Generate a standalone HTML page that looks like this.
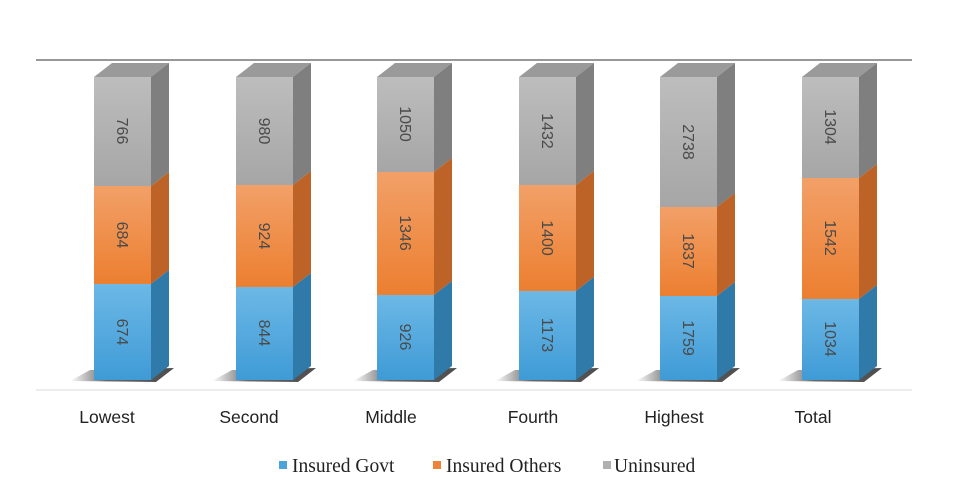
<!DOCTYPE html>
<html><head><meta charset="utf-8"><style>
html,body{margin:0;padding:0;background:#fff;width:954px;height:500px;overflow:hidden}
svg{display:block}
.v{font-family:"Liberation Sans",sans-serif;font-size:16px;fill:#4a4a4a}
.c{font-family:"Liberation Sans",sans-serif;font-size:17.5px;fill:#222}
.l{font-family:"Liberation Serif",serif;font-size:19.5px;fill:#222}
</style></head><body>
<svg width="954" height="500" viewBox="0 0 954 500">
<defs>
<linearGradient id="gg" x1="0" y1="0" x2="0" y2="1"><stop offset="0" stop-color="#bdbdbd"/><stop offset="1" stop-color="#a6a6a6"/></linearGradient>
<linearGradient id="go" x1="0" y1="0" x2="0" y2="1"><stop offset="0" stop-color="#f2a068"/><stop offset="1" stop-color="#ec7f30"/></linearGradient>
<linearGradient id="gb" x1="0" y1="0" x2="0" y2="1"><stop offset="0" stop-color="#6cb8e6"/><stop offset="1" stop-color="#3f9bd6"/></linearGradient>
<linearGradient id="sh" x1="0" y1="0" x2="1" y2="0"><stop offset="0" stop-color="#000" stop-opacity="0"/><stop offset="0.35" stop-color="#000" stop-opacity="0.6"/><stop offset="1" stop-color="#000" stop-opacity="0.7"/></linearGradient>
<g id="shadow"><polygon points="-24,381 -4,370 80,368 62,382" fill="url(#sh)"/></g>
</defs>
<line x1="36" y1="60" x2="912" y2="60" stroke="#777" stroke-width="1.5"/>
<line x1="36" y1="390" x2="912" y2="390" stroke="#e6e6e6" stroke-width="1.5"/>

<g transform="translate(94,0)">
<use href="#shadow"/>
<polygon points="0,77 18,63 75,63 57,77" fill="#9a9a9a"/>
<rect x="0" y="77" width="57" height="109" fill="url(#gg)"/>
<rect x="0" y="186" width="57" height="98" fill="url(#go)"/>
<rect x="0" y="284" width="57" height="96" fill="url(#gb)"/>
<polygon points="57,77 75,63 75,172 57,186" fill="#7f7f7f"/>
<polygon points="57,186 75,172 75,270 57,284" fill="#bd6327"/>
<polygon points="57,284 75,270 75,366 57,380" fill="#2f7aa8"/>
<text class="v" transform="translate(23,131) rotate(90)" text-anchor="middle">766</text>
<text class="v" transform="translate(23,235) rotate(90)" text-anchor="middle">684</text>
<text class="v" transform="translate(23,332) rotate(90)" text-anchor="middle">674</text>
</g>
<g transform="translate(236,0)">
<use href="#shadow"/>
<polygon points="0,77 18,63 75,63 57,77" fill="#9a9a9a"/>
<rect x="0" y="77" width="57" height="108" fill="url(#gg)"/>
<rect x="0" y="185" width="57" height="102" fill="url(#go)"/>
<rect x="0" y="287" width="57" height="93" fill="url(#gb)"/>
<polygon points="57,77 75,63 75,171 57,185" fill="#7f7f7f"/>
<polygon points="57,185 75,171 75,273 57,287" fill="#bd6327"/>
<polygon points="57,287 75,273 75,366 57,380" fill="#2f7aa8"/>
<text class="v" transform="translate(23,131) rotate(90)" text-anchor="middle">980</text>
<text class="v" transform="translate(23,236) rotate(90)" text-anchor="middle">924</text>
<text class="v" transform="translate(23,333) rotate(90)" text-anchor="middle">844</text>
</g>
<g transform="translate(377,0)">
<use href="#shadow"/>
<polygon points="0,77 18,63 75,63 57,77" fill="#9a9a9a"/>
<rect x="0" y="77" width="57" height="95" fill="url(#gg)"/>
<rect x="0" y="172" width="57" height="123" fill="url(#go)"/>
<rect x="0" y="295" width="57" height="85" fill="url(#gb)"/>
<polygon points="57,77 75,63 75,158 57,172" fill="#7f7f7f"/>
<polygon points="57,172 75,158 75,281 57,295" fill="#bd6327"/>
<polygon points="57,295 75,281 75,366 57,380" fill="#2f7aa8"/>
<text class="v" transform="translate(23,124) rotate(90)" text-anchor="middle">1050</text>
<text class="v" transform="translate(23,233) rotate(90)" text-anchor="middle">1346</text>
<text class="v" transform="translate(23,337) rotate(90)" text-anchor="middle">926</text>
</g>
<g transform="translate(519,0)">
<use href="#shadow"/>
<polygon points="0,77 18,63 75,63 57,77" fill="#9a9a9a"/>
<rect x="0" y="77" width="57" height="108" fill="url(#gg)"/>
<rect x="0" y="185" width="57" height="106" fill="url(#go)"/>
<rect x="0" y="291" width="57" height="89" fill="url(#gb)"/>
<polygon points="57,77 75,63 75,171 57,185" fill="#7f7f7f"/>
<polygon points="57,185 75,171 75,277 57,291" fill="#bd6327"/>
<polygon points="57,291 75,277 75,366 57,380" fill="#2f7aa8"/>
<text class="v" transform="translate(23,131) rotate(90)" text-anchor="middle">1432</text>
<text class="v" transform="translate(23,238) rotate(90)" text-anchor="middle">1400</text>
<text class="v" transform="translate(23,335) rotate(90)" text-anchor="middle">1173</text>
</g>
<g transform="translate(660,0)">
<use href="#shadow"/>
<polygon points="0,77 18,63 75,63 57,77" fill="#9a9a9a"/>
<rect x="0" y="77" width="57" height="130" fill="url(#gg)"/>
<rect x="0" y="207" width="57" height="89" fill="url(#go)"/>
<rect x="0" y="296" width="57" height="84" fill="url(#gb)"/>
<polygon points="57,77 75,63 75,193 57,207" fill="#7f7f7f"/>
<polygon points="57,207 75,193 75,282 57,296" fill="#bd6327"/>
<polygon points="57,296 75,282 75,366 57,380" fill="#2f7aa8"/>
<text class="v" transform="translate(23,142) rotate(90)" text-anchor="middle">2738</text>
<text class="v" transform="translate(23,251) rotate(90)" text-anchor="middle">1837</text>
<text class="v" transform="translate(23,338) rotate(90)" text-anchor="middle">1759</text>
</g>
<g transform="translate(802,0)">
<use href="#shadow"/>
<polygon points="0,77 18,63 75,63 57,77" fill="#9a9a9a"/>
<rect x="0" y="77" width="57" height="101" fill="url(#gg)"/>
<rect x="0" y="178" width="57" height="121" fill="url(#go)"/>
<rect x="0" y="299" width="57" height="81" fill="url(#gb)"/>
<polygon points="57,77 75,63 75,164 57,178" fill="#7f7f7f"/>
<polygon points="57,178 75,164 75,285 57,299" fill="#bd6327"/>
<polygon points="57,299 75,285 75,366 57,380" fill="#2f7aa8"/>
<text class="v" transform="translate(23,127) rotate(90)" text-anchor="middle">1304</text>
<text class="v" transform="translate(23,238) rotate(90)" text-anchor="middle">1542</text>
<text class="v" transform="translate(23,339) rotate(90)" text-anchor="middle">1034</text>
</g>

<text class="c" x="107" y="423" text-anchor="middle">Lowest</text>
<text class="c" x="249" y="423" text-anchor="middle">Second</text>
<text class="c" x="391" y="423" text-anchor="middle">Middle</text>
<text class="c" x="533" y="423" text-anchor="middle">Fourth</text>
<text class="c" x="674" y="423" text-anchor="middle">Highest</text>
<text class="c" x="813" y="423" text-anchor="middle">Total</text>

<rect x="279" y="461" width="8" height="8" fill="#4aa3dc"/>
<text class="l" x="292" y="472">Insured Govt</text>
<rect x="433" y="461" width="8" height="8" fill="#ee8236"/>
<text class="l" x="446" y="472">Insured Others</text>
<rect x="603" y="461" width="8" height="8" fill="#b0b0b0"/>
<text class="l" x="614" y="472">Uninsured</text>
</svg>
</body></html>
